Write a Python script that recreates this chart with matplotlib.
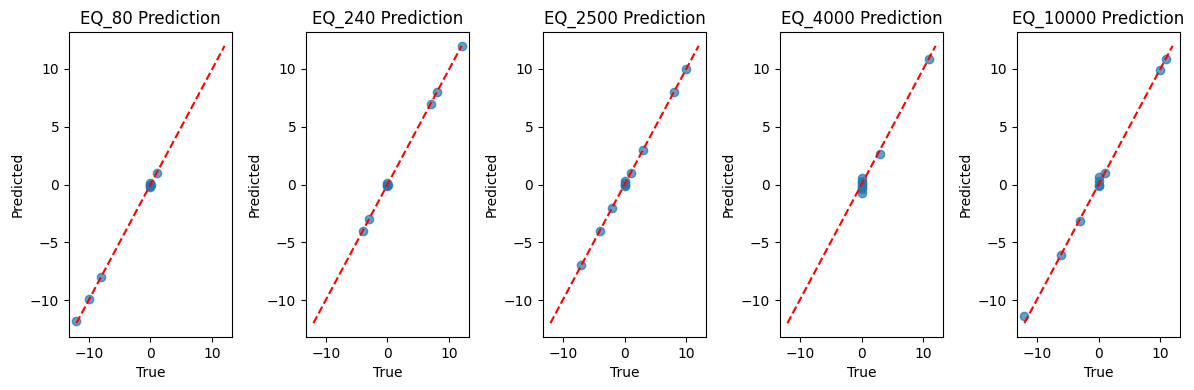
import matplotlib
matplotlib.use("Agg")
import matplotlib.pyplot as plt
import numpy as np

titles = ["EQ_80", "EQ_240", "EQ_2500", "EQ_4000", "EQ_10000"]

true_80 = [-12, -10, -8, 0, 0, 0, 0.1, 0, 1]
pred_80 = [-11.8, -9.9, -8, 0, -0.1, 0.1, 0, -0.2, 1]

true_240 = [-4, -3, 0, 0, 0.1, 0, 7, 8, 12]
pred_240 = [-4, -3, 0, 0.1, 0, -0.1, 7, 8, 12]

true_2500 = [-7, -4, -2, 0, 0, 0, 0, 1, 3, 8, 10]
pred_2500 = [-7, -4, -2, 0, 0.3, -0.1, 0.1, 1, 3, 8, 10]

true_4000 = [0, 0, 0, 0, 0, 0, 0, 3, 10.9]
pred_4000 = [0.6, 0.3, 0, 0.1, -0.2, -0.4, -0.7, 2.65, 10.9]

true_10000 = [-12, -6, -3, 0, 0, 0, 0, 1, 10, 11]
pred_10000 = [-11.4, -6.1, -3.15, 0.65, 0.3, 0, -0.1, 1, 9.9, 10.9]

trues = [true_80, true_240, true_2500, true_4000, true_10000]
preds = [pred_80, pred_240, pred_2500, pred_4000, pred_10000]

line_lo, line_hi = -12, 12

fig, axes = plt.subplots(1, 5, figsize=(11.94, 3.9), dpi=100)
for ax, t, p, name in zip(axes, trues, preds, titles):
    ax.scatter(t, p, alpha=0.7)
    ax.plot([line_lo, line_hi], [line_lo, line_hi], 'r--')
    ax.set_title(f"{name} Prediction")
    ax.set_xlabel("True")
    ax.set_ylabel("Predicted")
fig.subplots_adjust(left=69/1194, right=1180/1194, top=1-32/390, bottom=1-337/390, wspace=0.454)
fig.savefig("out.png", dpi=100)
